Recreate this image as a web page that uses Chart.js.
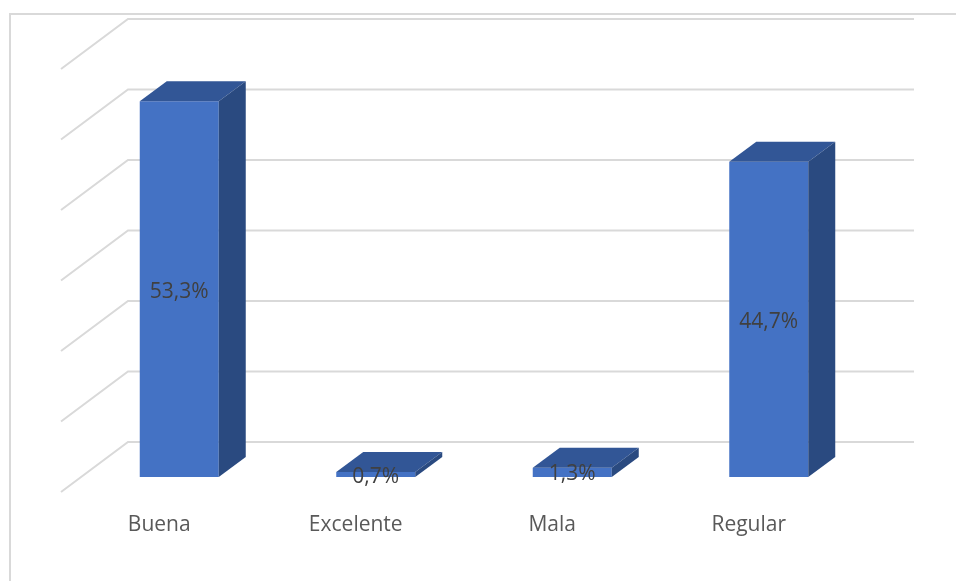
<!DOCTYPE html>
<html>
<head>
<meta charset="utf-8">
<script src="https://cdn.jsdelivr.net/npm/chart.js@4"></script>
<style>
html,body{margin:0;padding:0;background:#fff;overflow:hidden;}
canvas{display:block;}
</style>
</head>
<body>
<canvas id="c" width="956" height="581"></canvas>
<script>
const categories = ["Buena", "Excelente", "Mala", "Regular"];
const values = [53.3, 0.7, 1.3, 44.7];
const valueLabels = ["53,3%", "0,7%", "1,3%", "44,7%"];
const gridValues = [0, 10, 20, 30, 40, 50, 60];

const FRONT = "#4472C4", TOP = "#325696", SIDE = "#2A4A80";
const GRID = "#d9d9d9";
const FONT = "21px 'Open Sans', sans-serif";
// oblique depth offsets (relative to the plot area plane)
const BACK = {dx: 47, dy: -35}, FLOOR = {dx: -20, dy: 15}, BAR = {dx: 27, dy: -20};

const threeD = {
  id: "threeD",
  beforeDraw(chart) {
    const ctx = chart.ctx;
    ctx.save();
    ctx.strokeStyle = GRID; ctx.lineWidth = 2;
    ctx.beginPath();
    ctx.moveTo(10, chart.height + 5); ctx.lineTo(10, 14); ctx.lineTo(chart.width + 5, 14);
    ctx.stroke();
    ctx.restore();
  },
  beforeDatasetsDraw(chart) {
    const ctx = chart.ctx, ca = chart.chartArea, ys = chart.scales.y;
    ctx.save();
    ctx.strokeStyle = GRID; ctx.lineWidth = 2;
    gridValues.forEach(v => {
      const y = ys.getPixelForValue(v);
      ctx.beginPath();
      ctx.moveTo(ca.left + FLOOR.dx, y + FLOOR.dy);
      ctx.lineTo(ca.left + BACK.dx, y + BACK.dy);
      ctx.lineTo(ca.right + BACK.dx, y + BACK.dy);
      ctx.stroke();
    });
    ctx.restore();
  },
  afterDatasetsDraw(chart) {
    const ctx = chart.ctx, meta = chart.getDatasetMeta(0);
    const xs = chart.scales.x, ca = chart.chartArea;
    ctx.save();
    meta.data.forEach((bar, i) => {
      const p = bar.getProps(["x", "y", "base", "width"], true);
      const x0 = p.x - p.width / 2, x1 = p.x + p.width / 2, top = p.y, base = p.base;
      ctx.fillStyle = TOP;
      ctx.beginPath();
      ctx.moveTo(x0, top); ctx.lineTo(x0 + BAR.dx, top + BAR.dy);
      ctx.lineTo(x1 + BAR.dx, top + BAR.dy); ctx.lineTo(x1, top); ctx.closePath(); ctx.fill();
      ctx.fillStyle = SIDE;
      ctx.beginPath();
      ctx.moveTo(x1, top); ctx.lineTo(x1 + BAR.dx, top + BAR.dy);
      ctx.lineTo(x1 + BAR.dx, base + BAR.dy); ctx.lineTo(x1, base); ctx.closePath(); ctx.fill();
    });
    // data labels
    ctx.font = FONT; ctx.fillStyle = "#404040";
    ctx.textAlign = "center"; ctx.textBaseline = "middle";
    meta.data.forEach((bar, i) => {
      const p = bar.getProps(["x", "y", "base"], true);
      const small = Math.abs(p.base - p.y) < 20;
      ctx.fillText(valueLabels[i], p.x, (p.y + p.base) / 2 + (small ? 2 : 3));
    });
    // category labels on the front floor edge
    ctx.fillStyle = "#595959";
    categories.forEach((c, i) => {
      ctx.fillText(c, xs.getPixelForValue(i) + FLOOR.dx, ca.bottom + 48);
    });
    ctx.restore();
  }
};

new Chart(document.getElementById("c"), {
  type: "bar",
  data: {
    labels: categories,
    datasets: [{
      data: values,
      backgroundColor: FRONT,
      borderWidth: 0,
      barPercentage: 0.402,
      categoryPercentage: 1
    }]
  },
  options: {
    responsive: false,
    animation: false,
    devicePixelRatio: 1,
    layout: {padding: {top: 54, bottom: 104, left: 81, right: 89}},
    plugins: {legend: {display: false}, tooltip: {enabled: false}},
    scales: {
      x: {display: false, offset: true},
      y: {display: false, min: 0, max: 60}
    }
  },
  plugins: [threeD]
});
</script>
</body>
</html>
